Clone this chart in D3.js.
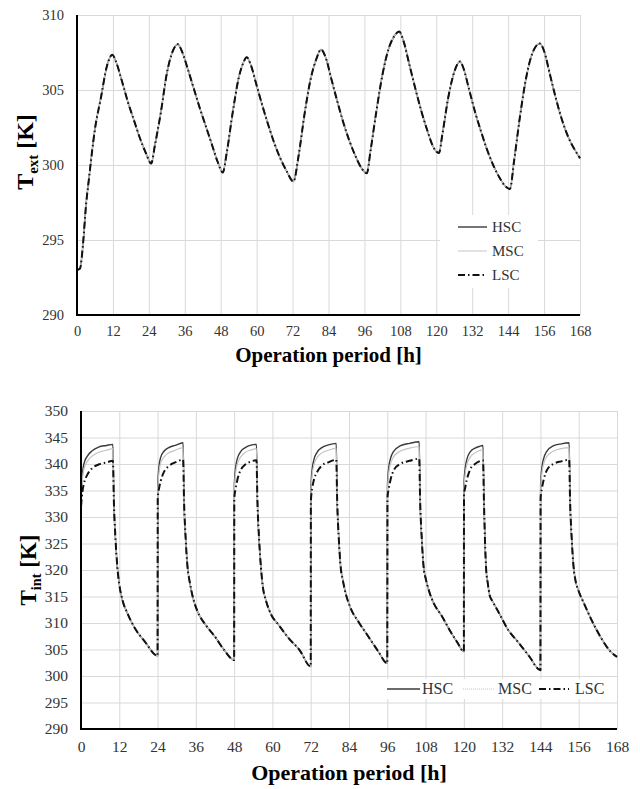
<!DOCTYPE html>
<html>
<head>
<meta charset="utf-8">
<script src="https://cdn.jsdelivr.net/npm/d3@7"></script>
<style>
  html, body { margin: 0; padding: 0; background: #fff; }
  svg { display: block; }
  text { font-family: "Liberation Serif", "Times New Roman", serif; }
</style>
</head>
<body>
<svg id="chart" width="640" height="789"></svg>
<script>
// ---------------- DATA ----------------
const xTicks = [0, 12, 24, 36, 48, 60, 72, 84, 96, 108, 120, 132, 144, 156, 168];
const extYTicks = [290, 295, 300, 305, 310];
const intYTicks = [290, 295, 300, 305, 310, 315, 320, 325, 330, 335, 340, 345, 350];
const seriesNames = ["HSC", "MSC", "LSC"];

// Top panel: external temperature T_ext [K] vs operation period [h]
const extTime = [0,1,2,3,4,6,8,10,11.8,13,15,17,19,21,23,24.8,26,28,30,32,33.7,35,37,39,41,43,45,47,48.7,50,52,54,55.5,56.7,58,60,62,64,66,68,70,72.3,74,76,78,80,81.5,83,85,87,89,91,93,95,96.8,98,100,102,104,106,107.6,109,111,113,115,117,119,120.9,122,124,126,127.9,129,131,133,135,137,139,141,143,144.6,146,148,150,152,154.6,156,158,160,162,164,166,168];
const extHSC = [293.0,293.1,294.7,297.3,299.1,302.4,304.5,306.6,307.35,306.9,305.6,304.2,303.0,301.8,300.8,300.1,301.3,303.5,306.1,307.6,308.05,307.6,306.4,305.1,303.8,302.6,301.4,300.2,299.5,300.8,303.5,305.8,306.8,307.18,306.7,305.3,303.9,302.6,301.4,300.4,299.6,298.9,300.6,303.4,305.7,307.1,307.7,307.2,305.7,304.2,302.8,301.6,300.6,299.8,299.45,300.9,303.6,306.0,307.7,308.6,308.9,308.3,306.7,305.1,303.6,302.3,301.2,300.8,302.0,304.5,306.2,306.9,306.5,305.0,303.5,302.2,301.0,300.0,299.2,298.6,298.4,300.3,303.3,305.8,307.4,308.1,307.6,306.0,304.4,303.0,301.9,301.1,300.45];
const extMSC = [293.0,293.1,294.7,297.3,299.1,302.4,304.5,306.6,307.35,306.9,305.6,304.2,303.0,301.8,300.8,300.1,301.3,303.5,306.1,307.6,308.05,307.6,306.4,305.1,303.8,302.6,301.4,300.2,299.5,300.8,303.5,305.8,306.8,307.18,306.7,305.3,303.9,302.6,301.4,300.4,299.6,298.9,300.6,303.4,305.7,307.1,307.7,307.2,305.7,304.2,302.8,301.6,300.6,299.8,299.45,300.9,303.6,306.0,307.7,308.6,308.9,308.3,306.7,305.1,303.6,302.3,301.2,300.8,302.0,304.5,306.2,306.9,306.5,305.0,303.5,302.2,301.0,300.0,299.2,298.6,298.4,300.3,303.3,305.8,307.4,308.1,307.6,306.0,304.4,303.0,301.9,301.1,300.45];
const extLSC = [293.0,293.1,294.7,297.3,299.1,302.4,304.5,306.6,307.35,306.9,305.6,304.2,303.0,301.8,300.8,300.1,301.3,303.5,306.1,307.6,308.05,307.6,306.4,305.1,303.8,302.6,301.4,300.2,299.5,300.8,303.5,305.8,306.8,307.18,306.7,305.3,303.9,302.6,301.4,300.4,299.6,298.9,300.6,303.4,305.7,307.1,307.7,307.2,305.7,304.2,302.8,301.6,300.6,299.8,299.45,300.9,303.6,306.0,307.7,308.6,308.9,308.3,306.7,305.1,303.6,302.3,301.2,300.8,302.0,304.5,306.2,306.9,306.5,305.0,303.5,302.2,301.0,300.0,299.2,298.6,298.4,300.3,303.3,305.8,307.4,308.1,307.6,306.0,304.4,303.0,301.9,301.1,300.45];

// Bottom panel: internal temperature T_int [K] vs operation period [h]
const intTime = [
  0,0.5,1,2,3.5,5.5,8,10,10.3,10.8,11.4,12,13,14.5,17,20,24,
  24.05,24.5,25,26,27.5,29.5,32,32.3,32.8,33.4,34,35,36.5,39,42,45,48,
  48.05,48.5,49,50,51.5,53,55,55.3,55.8,56.4,57,58,59.5,62,65,68.5,72,
  72.05,72.5,73,74,75.5,77.5,80,80.3,80.8,81.4,82,83,84.5,87,90,93,96,
  96.05,96.5,97,98,100,103,106,106.3,106.8,107.4,108,109,110.5,113,116,118,120,
  120.05,120.5,121,122,123.5,124.8,126,126.3,126.6,127,127.5,128.1,129,131,134,137,140.5,144,
  144.05,144.5,145,146,148,150.5,153,153.3,153.8,154.4,155,156,157.5,160,163,166,168];
const intHSC = [
  333,338.5,340.2,341.5,342.5,343.2,343.5,343.7,333,326,320.5,317.3,314.3,311.9,308.9,306.5,303.8,
  336,339.8,341.3,342.4,343.1,343.5,344.0,333,326,320.5,318,315,312.2,309.7,307.4,304.8,303.0,
  336,339.5,341,342.3,343.1,343.5,343.7,333,326,320.5,316.8,314.2,311.7,309.6,307.2,304.9,301.8,
  335.5,339.2,340.8,342.2,343.1,343.6,343.9,333,326,320.5,318.3,315.5,312.8,310.2,307.5,304.8,302.4,
  336,339.5,341,342.4,343.4,343.9,344.2,333,326,320.5,318.5,316.2,313.8,311.4,308.2,306.3,304.6,
  336.5,339.5,341,342.3,343.0,343.3,343.5,333,326,320,317.5,315.2,314.1,311.9,308.6,306.4,303.7,301.1,
  336,339.5,341,342.4,343.4,343.8,344.0,333,326,320.5,318,316,313.9,310.6,307.2,304.6,303.6];
const intMSC = [
  332.5,337.5,339.2,340.5,341.5,342.2,342.6,342.9,333,326,320.5,317.3,314.3,311.9,308.9,306.5,303.8,
  335,338.7,340.2,341.3,342.1,342.6,343.1,333,326,320.5,318,315,312.2,309.7,307.4,304.8,303.0,
  335,338.5,340,341.3,342.2,342.6,342.9,333,326,320.5,316.8,314.2,311.7,309.6,307.2,304.9,301.8,
  334.5,338.2,339.8,341.2,342.1,342.6,343.0,333,326,320.5,318.3,315.5,312.8,310.2,307.5,304.8,302.4,
  335,338.5,340,341.4,342.4,343.0,343.3,333,326,320.5,318.5,316.2,313.8,311.4,308.2,306.3,304.6,
  335.5,338.5,340,341.3,342.1,342.5,342.7,333,326,320,317.5,315.2,314.1,311.9,308.6,306.4,303.7,301.1,
  335,338.5,340,341.4,342.4,342.9,343.1,333,326,320.5,318,316,313.9,310.6,307.2,304.6,303.6];
const intLSC = [
  332,335,336.5,338,339.2,339.9,340.3,340.6,333,326,320.5,317.3,314.3,311.9,308.9,306.5,303.8,
  333.5,335.5,336.8,338.5,339.6,340.3,340.8,333,326,320.5,318,315,312.2,309.7,307.4,304.8,303.0,
  333.5,335.5,337,338.8,339.9,340.4,340.7,333,326,320.5,316.8,314.2,311.7,309.6,307.2,304.9,301.8,
  333,335.5,337,338.5,339.7,340.3,340.8,333,326,320.5,318.3,315.5,312.8,310.2,307.5,304.8,302.4,
  333.5,335.5,337,338.8,340,340.6,341.0,333,326,320.5,318.5,316.2,313.8,311.4,308.2,306.3,304.6,
  334,335.8,337.2,339,340.0,340.5,340.7,333,326,320,317.5,315.2,314.1,311.9,308.6,306.4,303.7,301.1,
  333.5,335.5,337,338.8,340,340.5,340.8,333,326,320.5,318,316,313.9,310.6,307.2,304.6,303.6];

// ---------------- STYLES ----------------
const styles = {
  HSC: { stroke: "#3a3a3a", width: 1.4, dash: null },
  MSC: { stroke: "#c4c4c4", width: 1.2, dash: null },
  LSC: { stroke: "#111", width: 2, dash: "7,3,1.5,3" }
};
const FONT = '"Liberation Serif", "Times New Roman", serif';

const svg = d3.select("#chart");

function panel(cfg) {
  const x = d3.scaleLinear().domain([0, 168]).range([cfg.left, cfg.right]);
  const y = d3.scaleLinear().domain(cfg.yDomain).range([cfg.bottom, cfg.top]);
  const g = svg.append("g");

  // grid
  g.append("g").attr("transform", `translate(0,${cfg.bottom})`)
    .call(d3.axisBottom(x).tickValues(xTicks).tickSize(-(cfg.bottom - cfg.top)).tickFormat(""))
    .call(s => s.select(".domain").remove())
    .call(s => s.selectAll("line").attr("stroke", "#d9d9d9").attr("stroke-width", 1));
  g.append("g").attr("transform", `translate(${cfg.left},0)`)
    .call(d3.axisLeft(y).tickValues(cfg.yTicks).tickSize(-(cfg.right - cfg.left)).tickFormat(""))
    .call(s => s.select(".domain").remove())
    .call(s => s.selectAll("line").attr("stroke", "#d9d9d9").attr("stroke-width", 1));

  // tick labels
  g.append("g").attr("transform", `translate(0,${cfg.bottom})`)
    .call(d3.axisBottom(x).tickValues(xTicks).tickSize(0).tickPadding(cfg.xPad))
    .call(s => s.select(".domain").remove())
    .call(s => s.selectAll("text").attr("font-family", FONT).attr("font-size", cfg.tickFont).attr("fill", "#333"));
  g.append("g").attr("transform", `translate(${cfg.left},0)`)
    .call(d3.axisLeft(y).tickValues(cfg.yTicks).tickSize(0).tickPadding(cfg.yPad))
    .call(s => s.select(".domain").remove())
    .call(s => s.selectAll("text").attr("font-family", FONT).attr("font-size", cfg.tickFont).attr("fill", "#333"));

  // series lines
  const clipId = "clip" + cfg.id;
  svg.append("clipPath").attr("id", clipId).append("rect")
    .attr("x", cfg.left).attr("y", cfg.top - 2).attr("width", cfg.right - cfg.left + 1).attr("height", cfg.bottom - cfg.top + 2);
  const line = d3.line().x(d => x(d[0])).y(d => y(d[1])).curve(d3.curveMonotoneX);
  const lg = g.append("g").attr("clip-path", `url(#${clipId})`);
  cfg.series.forEach((vals, i) => {
    const st = styles[seriesNames[i]];
    const pts = cfg.time.map((t, j) => [t, vals[j]]);
    lg.append("path").datum(pts)
      .attr("d", line).attr("fill", "none")
      .attr("stroke", st.stroke).attr("stroke-width", st.width)
      .attr("stroke-dasharray", st.dash).attr("stroke-linejoin", "round");
  });

  // axis lines
  g.append("line").attr("x1", cfg.left).attr("x2", cfg.left).attr("y1", cfg.top).attr("y2", cfg.bottom)
    .attr("stroke", "#000").attr("stroke-width", 2);
  g.append("line").attr("x1", cfg.left - 1).attr("x2", cfg.right).attr("y1", cfg.bottom).attr("y2", cfg.bottom)
    .attr("stroke", "#000").attr("stroke-width", 2);

  // x title
  g.append("text").attr("x", (cfg.left + cfg.right) / 2).attr("y", cfg.xTitleY)
    .attr("text-anchor", "middle").attr("font-family", FONT).attr("font-weight", "bold")
    .attr("font-size", cfg.titleFont).attr("fill", "#000").text("Operation period [h]");

  // y title
  const yt = g.append("text")
    .attr("transform", `translate(${cfg.yTitleX},${cfg.yTitleY}) rotate(-90)`)
    .attr("text-anchor", "middle").attr("font-family", FONT).attr("font-weight", "bold")
    .attr("font-size", cfg.yTitleFont).attr("fill", "#000");
  yt.append("tspan").text("T");
  yt.append("tspan").attr("font-size", cfg.yTitleFont * 0.62).attr("dy", 5).text(cfg.sub);
  yt.append("tspan").attr("dy", -5).text(" [K]");

  // legend
  const L = cfg.legend;
  g.append("rect").attr("x", L.box[0]).attr("y", L.box[1]).attr("width", L.box[2]).attr("height", L.box[3]).attr("fill", "#fff");
  L.items.forEach((it, i) => {
    const st = styles[seriesNames[i]];
    g.append("line").attr("x1", it[0]).attr("x2", it[1]).attr("y1", it[2]).attr("y2", it[2])
      .attr("stroke", st.stroke).attr("stroke-width", i === 1 ? 1 : st.width)
      .attr("stroke-dasharray", i === 1 && L.msDot ? "1,1" : st.dash);
    g.append("text").attr("x", it[3]).attr("y", it[2] + L.fs * 0.33)
      .attr("font-family", FONT).attr("font-size", L.fs).attr("fill", "#333").text(seriesNames[i]);
  });
}

panel({
  id: 1, left: 77, right: 580, top: 15, bottom: 315, yDomain: [290, 310], yTicks: extYTicks,
  time: extTime, series: [extHSC, extMSC, extLSC], sub: "ext",
  tickFont: 14.5, xPad: 11, yPad: 13, titleFont: 21, yTitleFont: 24, xTitleY: 362, yTitleX: 33, yTitleY: 152,
  legend: { box: [440, 215, 98, 73], fs: 15, msDot: false,
    items: [[458, 487, 227, 492], [458, 487, 251, 492], [458, 487, 275, 492]] }
});

panel({
  id: 2, left: 81, right: 617, top: 411, bottom: 729, yDomain: [290, 350], yTicks: intYTicks,
  time: intTime, series: [intHSC, intMSC, intLSC], sub: "int",
  tickFont: 15.5, xPad: 12, yPad: 13, titleFont: 22, yTitleFont: 23, xTitleY: 780, yTitleX: 36, yTitleY: 570,
  legend: { box: [385, 679, 226, 20], fs: 16, msDot: true,
    items: [[387, 420, 689, 422], [463, 494, 689, 498], [539, 569, 689, 575]] }
});
</script>
</body>
</html>
